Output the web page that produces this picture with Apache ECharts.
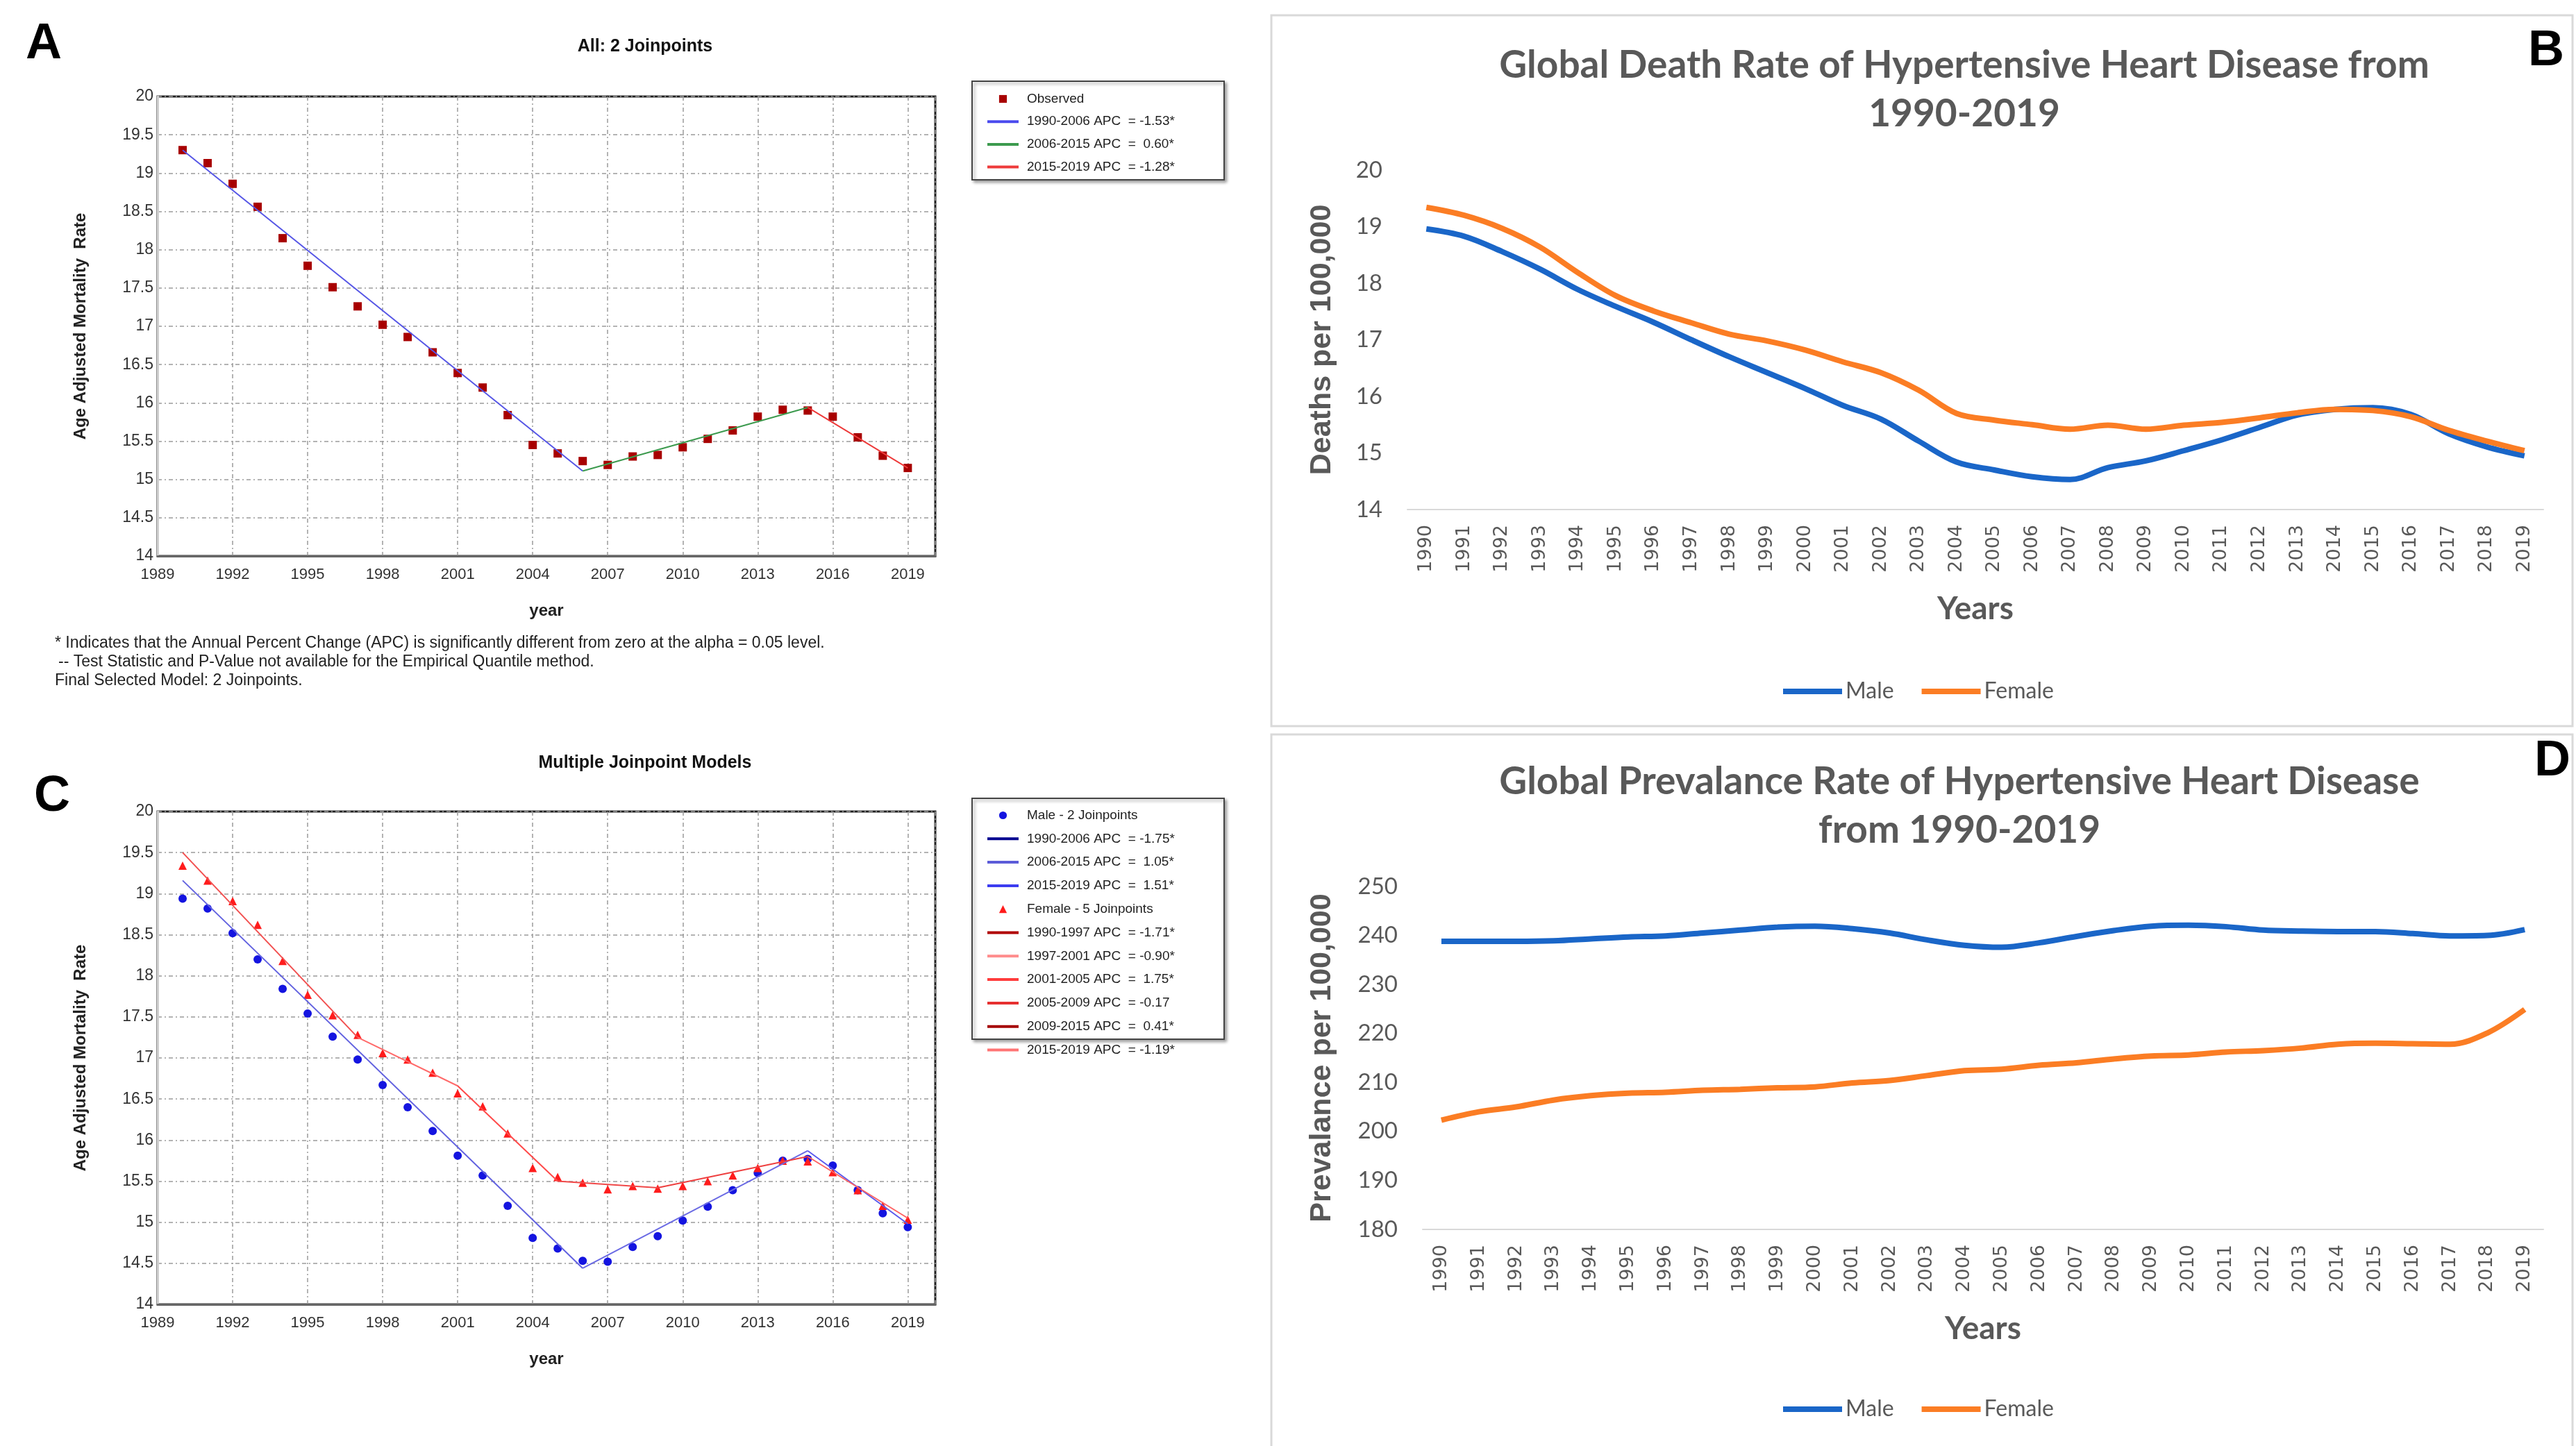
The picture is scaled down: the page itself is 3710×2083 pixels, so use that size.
<!DOCTYPE html>
<html>
<head>
<meta charset="utf-8">
<title>Hypertensive Heart Disease 1990-2019</title>
<script src="https://cdn.jsdelivr.net/npm/echarts@6/dist/echarts.min.js"></script>
<style>
  html, body { margin: 0; padding: 0; background: #fff; }
  #main { width: 3710px; height: 2083px; }
</style>
</head>
<body>
<div id="main"></div>
<script>
// years shared by all four panels
var years = [1990, 1991, 1992, 1993, 1994, 1995, 1996, 1997, 1998, 1999,
             2000, 2001, 2002, 2003, 2004, 2005, 2006, 2007, 2008, 2009,
             2010, 2011, 2012, 2013, 2014, 2015, 2016, 2017, 2018, 2019];

// A: joinpoint, all
var obsAll = [19.30, 19.13, 18.86, 18.56, 18.15, 17.79, 17.51, 17.26, 17.02, 16.86,
              16.66, 16.39, 16.20, 15.84, 15.45, 15.34, 15.24, 15.19, 15.30, 15.32,
              15.42, 15.53, 15.64, 15.82, 15.91, 15.90, 15.82, 15.55, 15.31, 15.15];
var joinYearsAll = [1990, 2006, 2015, 2019];
var joinValsAll = [19.30, 15.11, 15.94, 15.15];
var apcAll = ['-1.53*', ' 0.60*', '-1.28*'];

// C: joinpoint, male / female
var obsMale = [18.94, 18.82, 18.52, 18.20, 17.84, 17.54, 17.26, 16.98, 16.67, 16.40,
               16.11, 15.81, 15.57, 15.20, 14.81, 14.68, 14.53, 14.52, 14.70, 14.83,
               15.02, 15.19, 15.39, 15.60, 15.75, 15.77, 15.69, 15.39, 15.11, 14.94];
var obsFemale = [19.34, 19.16, 18.91, 18.62, 18.18, 17.77, 17.52, 17.28, 17.06, 16.98,
                 16.82, 16.57, 16.41, 16.08, 15.66, 15.55, 15.48, 15.40, 15.44, 15.41,
                 15.44, 15.50, 15.57, 15.66, 15.75, 15.74, 15.61, 15.39, 15.20, 15.03];
var joinYearsMale = [1990, 2006, 2015, 2019];
var joinValsMale = [19.16, 14.44, 15.87, 14.98];
var apcMale = ['-1.75*', ' 1.05*', ' 1.51*'];
var joinYearsFemale = [1990, 1997, 2001, 2005, 2009, 2015, 2019];
var joinValsFemale = [19.50, 17.25, 16.66, 15.50, 15.42, 15.80, 15.05];
var apcFemale = ['-1.71*', '-0.90*', ' 1.75*', '-0.17', ' 0.41*', '-1.19*'];

// B: death rate per 100,000
var deathMale = [18.96, 18.83, 18.56, 18.25, 17.89, 17.59, 17.31, 17.00, 16.70, 16.42,
                 16.14, 15.84, 15.60, 15.21, 14.84, 14.70, 14.58, 14.53, 14.74, 14.86,
                 15.04, 15.23, 15.45, 15.67, 15.77, 15.80, 15.68, 15.34, 15.11, 14.95];
var deathFemale = [19.34, 19.20, 18.97, 18.64, 18.19, 17.78, 17.51, 17.30, 17.10, 16.98,
                   16.82, 16.61, 16.42, 16.11, 15.70, 15.58, 15.50, 15.42, 15.49, 15.42,
                   15.49, 15.54, 15.62, 15.71, 15.77, 15.75, 15.64, 15.40, 15.21, 15.04];

// D: prevalence per 100,000
var prevMale = [238.8, 238.8, 238.8, 238.9, 239.3, 239.7, 239.9, 240.5, 241.1, 241.7,
                241.9, 241.4, 240.5, 239.1, 238.0, 237.6, 238.5, 239.8, 241.0, 241.9,
                242.1, 241.8, 241.1, 240.9, 240.8, 240.8, 240.4, 239.9, 240.0, 241.2];
var prevFemale = [202.3, 204.0, 205.0, 206.4, 207.3, 207.8, 208.0, 208.4, 208.6, 208.9,
                  209.1, 209.9, 210.4, 211.4, 212.4, 212.7, 213.5, 214.0, 214.8, 215.4,
                  215.6, 216.2, 216.5, 217.0, 217.8, 218.0, 217.9, 217.8, 220.1, 224.9];

var chart = echarts.init(document.getElementById('main'));

var jpFont = '"Liberation Sans", Arial, sans-serif';
var xlFont = 'Lato, "Open Sans", sans-serif';
var gray = '#595959';
var blue = '#1a66c8';
var orange = '#fb7d24';

function pairs(xs, ys) {
    return xs.map(function (x, i) { return [x, ys[i]]; });
}

// one line series per joinpoint segment; legend colour may differ from plot colour
function segments(joinYears, joinVals, apc, colors, legendColors, axis) {
    var list = [];
    for (var i = 0; i < joinYears.length - 1; i++) {
        list.push({
            name: joinYears[i] + '-' + joinYears[i + 1] + ' APC  = ' + apc[i],
            type: 'line',
            xAxisIndex: axis, yAxisIndex: axis,
            data: [[joinYears[i], joinVals[i]], [joinYears[i + 1], joinVals[i + 1]]],
            symbol: 'none',
            lineStyle: { color: colors[i], width: 2 },
            itemStyle: { color: colors[i] },
            legendColor: legendColors[i],
            z: 4
        });
    }
    return list;
}

function observed(name, vals, symbol, color, axis) {
    return {
        name: name, type: 'line',
        xAxisIndex: axis, yAxisIndex: axis,
        data: pairs(years, vals),
        symbol: symbol, symbolSize: 12, showSymbol: true,
        lineStyle: { opacity: 0 },
        itemStyle: { color: color },
        z: 3
    };
}

function jpXAxis(grid) {
    return {
        type: 'value', gridIndex: grid, min: 1989, max: 2020.1, interval: 3,
        name: 'year', nameLocation: 'middle', nameGap: 67,
        nameTextStyle: { fontFamily: jpFont, fontWeight: 'bold', fontSize: 24, color: '#222' },
        axisLine: { lineStyle: { color: '#666', width: 3 } },
        axisTick: { show: false },
        axisLabel: {
            fontFamily: jpFont, fontSize: 22, color: '#333', margin: 16,
            formatter: function (v) {
                var r = Math.round(v);
                return (Math.abs(r - v) < 1e-6 && (r - 1989) % 3 === 0) ? String(r) : '';
            }
        },
        splitLine: { show: true, lineStyle: { color: '#9a9a9a', width: 1.5, type: [6, 4, 2, 4] } }
    };
}

function jpYAxis(grid) {
    return {
        type: 'value', gridIndex: grid, min: 14, max: 20, interval: 0.5,
        name: 'Age Adjusted Mortality  Rate', nameLocation: 'middle', nameGap: 99,
        nameTextStyle: { fontFamily: jpFont, fontWeight: 'bold', fontSize: 24, color: '#222' },
        axisLine: { show: true, lineStyle: { color: '#cfcfcf', width: 3 } },
        axisTick: { show: false },
        axisLabel: { fontFamily: jpFont, fontSize: 23, color: '#333', margin: 6 },
        splitLine: { show: true, lineStyle: { color: '#9a9a9a', width: 1.5, type: [6, 4, 2, 4] } }
    };
}

function xlXAxis(grid) {
    return {
        type: 'category', gridIndex: grid, data: years, boundaryGap: true,
        name: 'Years', nameLocation: 'middle', nameGap: 120,
        nameTextStyle: { fontFamily: xlFont, fontWeight: 'bold', fontSize: 46, color: gray },
        axisLine: { lineStyle: { color: '#d9d9d9', width: 2 } },
        axisTick: { show: false },
        axisLabel: { rotate: 90, interval: 0, fontFamily: '"DejaVu Sans", sans-serif',
                     fontSize: 27, color: gray, margin: 22 },
        splitLine: { show: false }
    };
}

function xlYAxis(grid, min, max, step, name, gap) {
    return {
        type: 'value', gridIndex: grid, min: min, max: max, interval: step,
        name: name, nameLocation: 'middle', nameGap: gap,
        nameTextStyle: { fontFamily: jpFont, fontWeight: 'bold', fontSize: 43, color: gray },
        axisLine: { show: false }, axisTick: { show: false },
        axisLabel: { fontFamily: xlFont, fontSize: 33, color: gray, margin: 36 },
        splitLine: { show: false }
    };
}

function xlLine(name, vals, color, axis) {
    return {
        name: name, type: 'line', xAxisIndex: axis, yAxisIndex: axis,
        data: vals, smooth: 0.35, symbol: 'none',
        lineStyle: { color: color, width: 8 },
        itemStyle: { color: color }
    };
}

var segAll = segments(joinYearsAll, joinValsAll, apcAll,
    ['#5656e6', '#3c9a4e', '#ee3a3a'], ['#4a4aee', '#3c9a4e', '#ee3a3a'], 0);
var segMale = segments(joinYearsMale, joinValsMale, apcMale,
    ['#6262e0', '#6a6ae4', '#5a5aee'], ['#00008f', '#5c5cd8', '#3c3cf0'], 1);
var segFemale = segments(joinYearsFemale, joinValsFemale, apcFemale,
    ['#f25050', '#ff6a6a', '#ff4a4a', '#f04848', '#ee4040', '#ff6262'],
    ['#b00000', '#ff8c8c', '#ff3c3c', '#e63030', '#a50000', '#ff7474'], 1);

var obsA = observed('Observed', obsAll, 'rect', '#a80000', 0);
var obsM = observed('Male - 2 Joinpoints', obsMale, 'circle', '#1414e0', 1);
var obsF = observed('Female - 5 Joinpoints', obsFemale, 'triangle', '#ff1c1c', 1);

// legend entries: markers keep their symbol, segments show a bare line
function legendItems(list) {
    return list.map(function (s) {
        if (s.legendColor) {
            return { name: s.name, itemStyle: { opacity: 0 },
                     lineStyle: { color: s.legendColor, width: 4 } };
        }
        return { name: s.name };
    });
}

function jpLegend(top, gap, data) {
    return {
        orient: 'vertical', left: 1420, top: top, padding: 0,
        itemWidth: 45, itemHeight: 14, itemGap: gap,
        data: data,
        textStyle: { fontFamily: jpFont, fontSize: 19, color: '#222', lineHeight: 14, padding: [0, 0, 0, 7] }
    };
}

function xlLegend(top) {
    return {
        orient: 'horizontal', left: 2564, top: top, padding: 0,
        itemWidth: 85, itemHeight: 30, itemGap: 36,
        data: [
            { name: 'Male', itemStyle: { opacity: 0 }, lineStyle: { color: blue, width: 8 } },
            { name: 'Female', itemStyle: { opacity: 0 }, lineStyle: { color: orange, width: 8 } }
        ],
        textStyle: { fontFamily: xlFont, fontSize: 32, color: gray }
    };
}

function txt(text, x, y, font, color, align) {
    return {
        type: 'text', x: x, y: y, silent: true,
        style: { text: text, font: font, fill: color || '#000',
                 textAlign: align || 'center', textVerticalAlign: 'middle', lineHeight: 70 }
    };
}

function box(x, y, w, h, stroke, width, shadow) {
    return {
        type: 'rect', silent: true, z: -1,
        shape: { x: x, y: y, width: w, height: h },
        style: shadow ? { fill: '#fff', stroke: stroke, lineWidth: width,
                          shadowColor: 'rgba(0,0,0,0.35)', shadowBlur: 4, shadowOffsetX: 3, shadowOffsetY: 3 }
                      : { fill: 'none', stroke: stroke, lineWidth: width }
    };
}

var letterFont = 'bold 72px "Liberation Sans Narrow", "Liberation Sans", sans-serif';
var jpTitleFont = 'bold 25px "Liberation Sans", sans-serif';
var xlTitleFont = 'bold 55px Lato, "Open Sans", sans-serif';
var noteFont = '23px "Liberation Sans", sans-serif';

var option = {
    animation: false,
    backgroundColor: '#fff',
    grid: [
        { left: 227, top: 139, width: 1120, height: 662, show: true, borderColor: '#222', borderWidth: 3 },
        { left: 227, top: 1169, width: 1120, height: 710, show: true, borderColor: '#222', borderWidth: 3 },
        { left: 2027, top: 245, width: 1636, height: 489 },
        { left: 2049, top: 1277, width: 1614, height: 494 }
    ],
    xAxis: [jpXAxis(0), jpXAxis(1), xlXAxis(2), xlXAxis(3)],
    yAxis: [
        jpYAxis(0), jpYAxis(1),
        xlYAxis(2, 14, 20, 1, 'Deaths per 100,000', 101),
        xlYAxis(3, 180, 250, 10, 'Prevalance per 100,000', 123)
    ],
    legend: [
        jpLegend(133, 13.7, legendItems([obsA].concat(segAll))),
        jpLegend(1165, 14.8, legendItems([obsM].concat(segMale, [obsF], segFemale))),
        xlLegend(980),
        xlLegend(2014)
    ],
    series: [obsA].concat(segAll, [obsM], segMale, [obsF], segFemale, [
        xlLine('Male', deathMale, blue, 2),
        xlLine('Female', deathFemale, orange, 2),
        xlLine('Male', prevMale, blue, 3),
        xlLine('Female', prevFemale, orange, 3)
    ]),
    graphic: { elements: [
        box(1831, 22, 1874, 1024, '#d9d9d9', 3, false),
        box(1831, 1058, 1874, 1040, '#d9d9d9', 3, false),
        box(1400, 117, 363, 142, '#444', 2, true),
        box(1400, 1150, 363, 347, '#444', 2, true),
        txt('A', 63, 64, letterFont),
        txt('C', 75, 1148, letterFont),
        txt('B', 3667, 74, letterFont),
        txt('D', 3676, 1097, letterFont),
        txt('All: 2 Joinpoints', 929, 67, jpTitleFont, '#111'),
        txt('Multiple Joinpoint Models', 929, 1099, jpTitleFont, '#111'),
        txt('Global Death Rate of Hypertensive Heart Disease from\n1990-2019', 2829, 129, xlTitleFont, gray),
        txt('Global Prevalance Rate of Hypertensive Heart Disease\nfrom 1990-2019', 2822, 1161, xlTitleFont, gray),
        txt('* Indicates that the Annual Percent Change (APC) is significantly different from zero at the alpha = 0.05 level.', 79, 927, noteFont, '#222', 'left'),
        txt('-- Test Statistic and P-Value not available for the Empirical Quantile method.', 84, 954, noteFont, '#222', 'left'),
        txt('Final Selected Model: 2 Joinpoints.', 79, 981, noteFont, '#222', 'left')
    ] }
};

chart.setOption(option);
</script>
</body>
</html>
